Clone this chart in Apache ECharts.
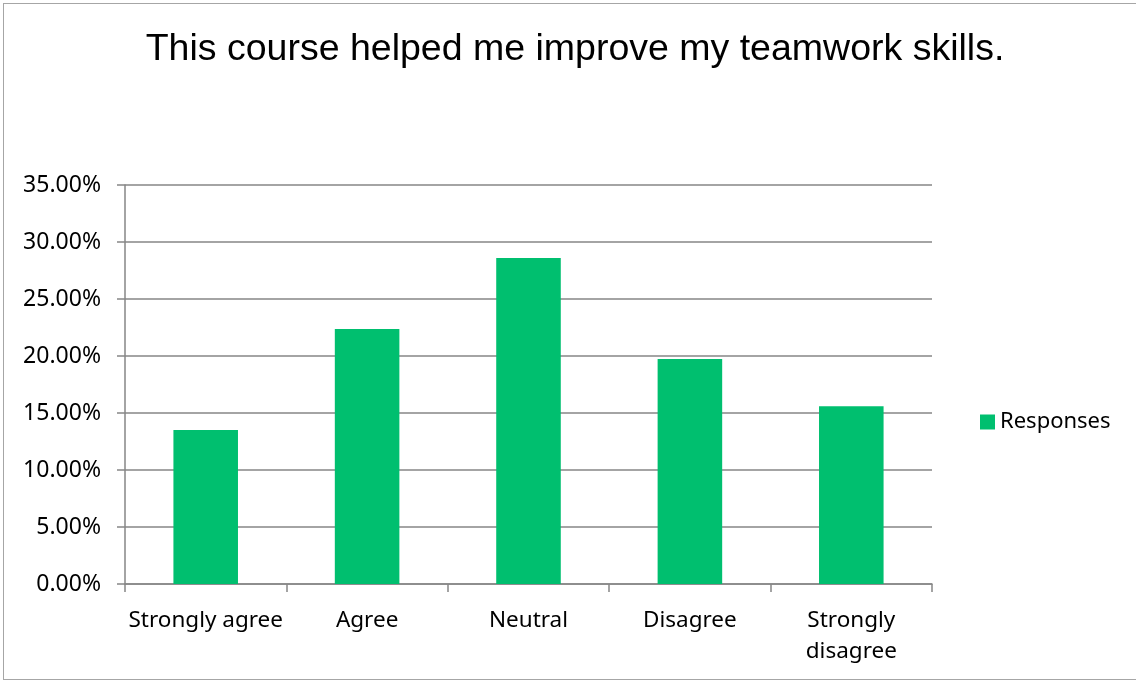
<!DOCTYPE html>
<html>
<head>
<meta charset="utf-8">
<script src="https://cdn.jsdelivr.net/npm/echarts@6/dist/echarts.min.js"></script>
<style>
  html, body { margin: 0; padding: 0; background: #fff; overflow: hidden; }
  #frame { position: absolute; left: 3px; top: 3px; width: 1150px; height: 677px; border: 1px solid #a6a6a6; box-sizing: border-box; }
  #chart { position: absolute; left: 0; top: 0; width: 1136px; height: 683px; }
</style>
</head>
<body>
<div id="frame"></div>
<div id="chart"></div>
<script>
// data
var categories = ['Strongly agree', 'Agree', 'Neutral', 'Disagree', 'Strongly\ndisagree'];
var responses = [13.51, 22.37, 28.60, 19.74, 15.59];
var seriesName = 'Responses';
var chartTitle = 'This course helped me improve my teamwork skills.';

var axisGray = '#868686';
var myChart = echarts.init(document.getElementById('chart'));
var option = {
  backgroundColor: 'transparent',
  animation: false,
  title: {
    text: chartTitle,
    left: 570,
    top: 26,
    textAlign: 'center',
    textStyle: { fontFamily: 'Liberation Sans', fontSize: 37.5, fontWeight: 'normal', color: '#000' }
  },
  legend: {
    data: [seriesName],
    left: 975,
    top: 406,
    itemWidth: 15,
    itemHeight: 15,
    itemGap: 6,
    icon: 'rect',
    textStyle: { fontFamily: 'Noto Sans', fontSize: 22, color: '#000' }
  },
  grid: { left: 125, top: 185, right: 204, bottom: 99, containLabel: false },
  xAxis: {
    type: 'category',
    data: categories,
    axisLine: { show: true, lineStyle: { color: axisGray, width: 1.5 } },
    axisTick: { show: true, alignWithLabel: false, length: 8, lineStyle: { color: axisGray, width: 1.5 } },
    axisLabel: { fontFamily: 'Noto Sans', fontSize: 22.5, color: '#000', margin: 21, lineHeight: 31, interval: 0 }
  },
  yAxis: {
    type: 'value',
    min: 0,
    max: 35,
    interval: 5,
    axisLine: { show: true, lineStyle: { color: axisGray, width: 1.5 } },
    axisTick: { show: true, length: 8, lineStyle: { color: axisGray, width: 1.5 } },
    axisLabel: {
      fontFamily: 'Noto Sans', fontSize: 23, color: '#000', margin: 24,
      formatter: function (v) { return v.toFixed(2) + '%'; }
    },
    splitLine: { show: true, lineStyle: { color: axisGray, width: 1.5 } }
  },
  series: [{
    name: seriesName,
    type: 'bar',
    data: responses,
    barWidth: '40%',
    itemStyle: { color: '#00bf6f' }
  }]
};
myChart.setOption(option);
</script>
</body>
</html>
